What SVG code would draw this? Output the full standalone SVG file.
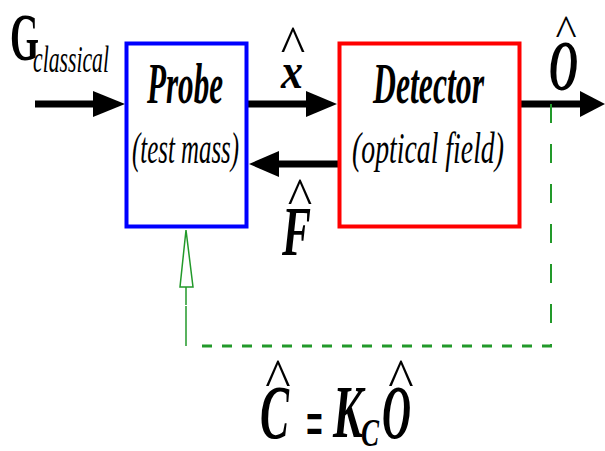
<svg xmlns="http://www.w3.org/2000/svg" width="605" height="451" viewBox="0 0 605 451">
<style>
.t{font-family:"Liberation Serif","Times New Roman",serif;fill:#000}
.bi{font-weight:bold;font-style:italic}
.i{font-style:italic}
.b{font-weight:bold}
.hat{font-family:"Liberation Serif","Times New Roman",serif;text-anchor:middle;fill:#000}
.shaft{stroke:#000;stroke-width:7;fill:none}
.head{fill:#000}
.g{stroke:#22992a;fill:none}
</style>
<rect width="605" height="451" fill="#fff"/>
<g id="connectors">
  <line class="shaft" x1="35" y1="104" x2="96" y2="104"/>
  <polygon class="head" points="93,91 125,104 93,117"/>
  <line class="shaft" x1="248" y1="104" x2="309" y2="104"/>
  <polygon class="head" points="306,91 337,104 306,117"/>
  <line class="shaft" x1="338" y1="164" x2="276" y2="164"/>
  <polygon class="head" points="279,151 249,164 279,177"/>
  <line class="shaft" x1="521" y1="104" x2="583" y2="104"/>
  <polygon class="head" points="580,91 605,104 580,117"/>
  <line class="g" x1="551" y1="104" x2="551" y2="346" stroke-width="2" stroke-dasharray="19 21"/>
  <line class="g" x1="552" y1="346" x2="196" y2="346" stroke-width="3" stroke-dasharray="10 10"/>
  <line class="g" x1="186" y1="346" x2="186" y2="306" stroke-width="1.5"/>
  <line class="g" x1="186" y1="305" x2="186" y2="287" stroke-width="1.5"/>
  <polygon class="g" points="186,230 193,287 180,287" fill="#fff" stroke-width="1.5"/>
</g>
<g id="probe">
  <rect x="126.5" y="43.5" width="120" height="183" fill="#fff" stroke="#0000ff" stroke-width="4"/>
  <text class="t bi" x="147" y="103" font-size="58" textLength="76" lengthAdjust="spacingAndGlyphs">Probe</text>
  <text class="t i" x="132" y="163" font-size="45" textLength="107" lengthAdjust="spacingAndGlyphs">(test mass)</text>
</g>
<g id="detector">
  <rect x="339.5" y="43.5" width="180" height="183" fill="#fff" stroke="#ff0000" stroke-width="4"/>
  <text class="t bi" x="373" y="103" font-size="58" textLength="111" lengthAdjust="spacingAndGlyphs">Detector</text>
  <text class="t i" x="352" y="163" font-size="45" textLength="152" lengthAdjust="spacingAndGlyphs">(optical field)</text>
</g>
<g id="labels">
  <text class="t b" x="10" y="60" font-size="68" textLength="29" lengthAdjust="spacingAndGlyphs">G</text>
  <text class="t i" x="33" y="72" font-size="38" textLength="76" lengthAdjust="spacingAndGlyphs">classical</text>
  <text class="t bi" x="281" y="88" font-size="50" textLength="22" lengthAdjust="spacingAndGlyphs">x</text>
  <text class="hat" x="293" y="62" font-size="52">^</text>
  <text class="t bi" x="549" y="90" font-size="72" textLength="29" lengthAdjust="spacingAndGlyphs">O</text>
  <text class="hat" x="566" y="45" font-size="45">^</text>
  <text class="t bi" x="282" y="255" font-size="70" textLength="29" lengthAdjust="spacingAndGlyphs">F</text>
  <text class="hat" x="300" y="214" font-size="52">^</text>
  <text class="t bi" x="260" y="438" font-size="76" textLength="29" lengthAdjust="spacingAndGlyphs">C</text>
  <text class="hat" x="278" y="396" font-size="54">^</text>
  <text class="t b" x="306" y="449" font-size="74" textLength="17" lengthAdjust="spacingAndGlyphs">=</text>
  <text class="t bi" x="333" y="437" font-size="74" textLength="30" lengthAdjust="spacingAndGlyphs">K</text>
  <text class="t bi" x="361" y="446" font-size="40" textLength="18" lengthAdjust="spacingAndGlyphs">C</text>
  <text class="t bi" x="382" y="438" font-size="76" textLength="29" lengthAdjust="spacingAndGlyphs">O</text>
  <text class="hat" x="401" y="396" font-size="54">^</text>
</g>
</svg>
